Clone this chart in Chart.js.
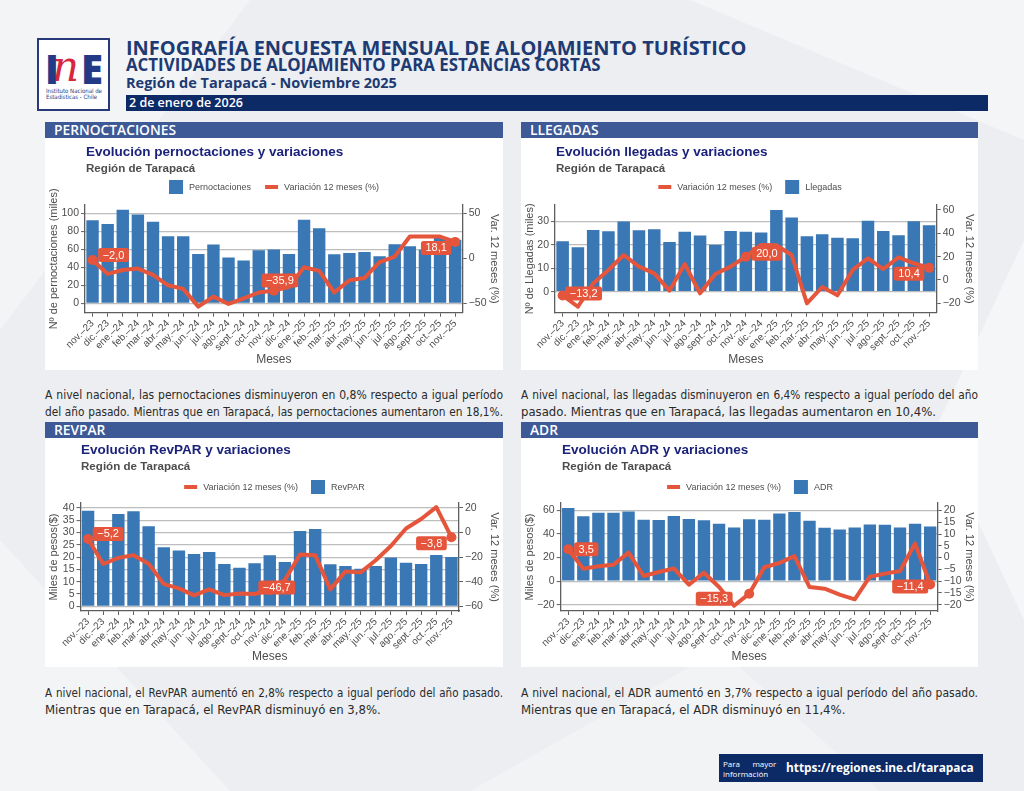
<!DOCTYPE html>
<html lang="es">
<head>
<meta charset="utf-8">
<title>Infografía Encuesta Mensual de Alojamiento Turístico - Tarapacá</title>
<script src="https://cdn.jsdelivr.net/npm/chart.js@4.4.1/dist/chart.umd.min.js"></script>
<style>
  html, body { margin: 0; padding: 0; }
  body { width: 1024px; height: 791px; position: relative; overflow: hidden; background: #eceef1; font-family: "Open Sans", "Noto Sans", sans-serif; }
  #fondo { position: absolute; left: 0; top: 0; }
  .abs { position: absolute; white-space: nowrap; line-height: 1; }
  .tit { color: #1d3a72; font-weight: 700; }
  #logo { position: absolute; left: 37px; top: 38px; width: 69px; height: 69px; background: #fff; border: 2px solid #27397a; }
  #logo .l { position: absolute; line-height: 1; font-weight: 800; color: #233b86; font-size: 40px; }
  #logo .n { position: absolute; line-height: 1; color: #d7263d; font-size: 42px; font-style: italic; font-family: "DejaVu Serif", serif; }
  #logo .inst { position: absolute; left: 7px; top: 48px; font-family: "Liberation Sans Narrow", "DejaVu Sans Condensed", sans-serif; font-size: 6px; line-height: 5.5px; color: #233b86; white-space: nowrap; }
  #fecha { position: absolute; left: 126px; top: 95px; width: 862px; height: 16px; background: #0c2a66; }
  #fecha span { position: absolute; left: 3px; color: #fff; font-weight: 600; white-space: nowrap; line-height: 1; }
  .seccion { position: absolute; height: 16px; background: #3d5a97; }
  .seccion span { position: absolute; left: 9px; top: 2px; color: #fff; font-weight: 600; white-space: nowrap; line-height: 1; font-size: 12.5px; }
  .panel { position: absolute; background: #fff; }
  .panel canvas { position: absolute; left: 0; top: 0; }
  .panel .t { position: absolute; font-family: "Liberation Sans", Arial, sans-serif; font-weight: 700; font-size: 13.5px; line-height: 16px; color: #1b227a; white-space: nowrap; }
  .panel .s { position: absolute; font-family: "Liberation Sans", Arial, sans-serif; font-weight: 700; font-size: 11.6px; line-height: 14px; color: #4d4d4d; white-space: nowrap; }
  .parrafo { position: absolute; width: 458px; font-family: "Liberation Sans Narrow", "DejaVu Sans Condensed", sans-serif; color: #2a2a2a; }
  .linea { height: 16.5px; line-height: 16.5px; white-space: nowrap; }
  #pie { position: absolute; left: 719px; top: 754px; width: 264px; height: 28px; background: #0c2a66; }
  #pie .mas { position: absolute; left: 4px; top: 5px; font-size: 8px; line-height: 9.5px; color: #fff; width: 53px; text-align: justify; }
  #pie .url { position: absolute; left: 67px; color: #fff; font-weight: 700; white-space: nowrap; line-height: 1; }
</style>
</head>
<body>
<svg id="fondo" width="1024" height="791">
  <polygon points="0,0 250,0 0,330" fill="#ffffff" opacity="0.35"/>
  <polygon points="690,0 1024,0 1024,140" fill="#ffffff" opacity="0.4"/>
  <polygon points="1024,240 1024,620 935,430" fill="#ffffff" opacity="0.45"/>
  <polygon points="0,540 0,791 230,791" fill="#ffffff" opacity="0.35"/>
  <polygon points="470,791 720,650 880,791" fill="#ffffff" opacity="0.3"/>
</svg>

<div id="logo">
  <span class="l" style="left:6px;top:9px">I</span>
  <span class="n" style="left:13px;top:6px">n</span>
  <span class="l" style="left:42px;top:9px">E</span>
  <div class="inst">Instituto Nacional de<br>Estadísticas - Chile</div>
</div>

<div id="t1" class="abs tit" style="left:126px">INFOGRAFÍA ENCUESTA MENSUAL DE ALOJAMIENTO TURÍSTICO</div>
<div id="t2" class="abs tit" style="left:126px">ACTIVIDADES DE ALOJAMIENTO PARA ESTANCIAS CORTAS</div>
<div id="t3" class="abs tit" style="left:126px">Región de Tarapacá - Noviembre 2025</div>
<div id="fecha"><span id="t4">2 de enero de 2026</span></div>

<div class="seccion" style="left:45px;top:122px;width:458px"><span id="s1">PERNOCTACIONES</span></div>
<div class="seccion" style="left:521px;top:122px;width:457px"><span>LLEGADAS</span></div>
<div class="seccion" style="left:45px;top:422px;width:458px"><span>REVPAR</span></div>
<div class="seccion" style="left:521px;top:422px;width:457px"><span>ADR</span></div>

<div class="panel" id="p1" style="left:45px;top:138px;width:458px;height:232px">
  <canvas id="g1" width="458" height="232"></canvas>
  <div class="t" style="left:41px;top:6px">Evolución pernoctaciones y variaciones</div>
  <div class="s" style="left:41px;top:23px">Región de Tarapacá</div>
</div>
<div class="panel" id="p2" style="left:521px;top:138px;width:457px;height:232px">
  <canvas id="g2" width="457" height="232"></canvas>
  <div class="t" style="left:35px;top:6px">Evolución llegadas y variaciones</div>
  <div class="s" style="left:35px;top:23px">Región de Tarapacá</div>
</div>
<div class="panel" id="p3" style="left:45px;top:438px;width:458px;height:229px">
  <canvas id="g3" width="458" height="229"></canvas>
  <div class="t" style="left:36px;top:4px">Evolución RevPAR y variaciones</div>
  <div class="s" style="left:36px;top:21px">Región de Tarapacá</div>
</div>
<div class="panel" id="p4" style="left:521px;top:438px;width:457px;height:229px">
  <canvas id="g4" width="457" height="229"></canvas>
  <div class="t" style="left:41px;top:4px">Evolución ADR y variaciones</div>
  <div class="s" style="left:41px;top:21px">Región de Tarapacá</div>
</div>

<div class="parrafo" style="left:45px;top:387px">
  <div class="linea j"><span>A nivel nacional, las pernoctaciones disminuyeron en 0,8% respecto a igual período</span></div>
  <div class="linea j"><span>del año pasado. Mientras que en Tarapacá, las pernoctaciones aumentaron en 18,1%.</span></div>
</div>
<div class="parrafo" style="left:521px;top:387px;width:457px">
  <div class="linea j"><span>A nivel nacional, las llegadas disminuyeron en 6,4% respecto a igual período del año</span></div>
  <div class="linea"><span>pasado. Mientras que en Tarapacá, las llegadas aumentaron en 10,4%.</span></div>
</div>
<div class="parrafo" style="left:45px;top:685px">
  <div class="linea j"><span>A nivel nacional, el RevPAR aumentó en 2,8% respecto a igual período del año pasado.</span></div>
  <div class="linea"><span>Mientras que en Tarapacá, el RevPAR disminuyó en 3,8%.</span></div>
</div>
<div class="parrafo" style="left:521px;top:685px;width:457px">
  <div class="linea j"><span>A nivel nacional, el ADR aumentó en 3,7% respecto a igual período del año pasado.</span></div>
  <div class="linea"><span>Mientras que en Tarapacá, el ADR disminuyó en 11,4%.</span></div>
</div>

<div id="pie">
  <div class="mas">Para&nbsp;&nbsp;&nbsp;&nbsp;&nbsp;&nbsp;mayor información</div>
  <span class="url" id="url">https://regiones.ine.cl/tarapaca</span>
</div>

<script>
const meses = ["nov.–23", "dic.–23", "ene.–24", "feb.–24", "mar.–24", "abr.–24", "may.–24", "jun.–24",
  "jul.–24", "ago.–24", "sept.–24", "oct.–24", "nov.–24", "dic.–24", "ene.–25", "feb.–25", "mar.–25",
  "abr.–25", "may.–25", "jun.–25", "jul.–25", "ago.–25", "sept.–25", "oct.–25", "nov.–25"];

// miles de pernoctaciones y variación 12 meses (%)
const pernoctaciones = [92.2, 87.8, 103.7, 98.5, 90.4, 74.4, 74.4, 54.8, 65.2, 50.7, 47.4, 58.9, 59.6,
  54.8, 92.6, 83.3, 54.4, 55.9, 57.0, 52.2, 65.6, 63.3, 59.3, 73.0, 70.4];
const varPernoctaciones = [-2.0, -17.4, -13.0, -11.5, -18.5, -30.0, -34.0, -53.7, -42.6, -50.7, -44.4,
  -38.0, -35.9, -32.0, -10.0, -14.0, -38.0, -24.4, -21.9, -4.4, 1.9, 24.0, 24.0, 24.0, 18.1];

// miles de llegadas
const llegadas = [21.6, 19.0, 26.4, 25.9, 30.0, 26.3, 26.7, 21.3, 25.7, 24.0, 20.1, 26.0, 25.7, 25.3,
  35.0, 31.7, 23.7, 24.6, 23.1, 22.9, 30.4, 26.0, 24.1, 30.1, 28.4];
const varLlegadas = [-13.2, -22.9, -2.9, 8.6, 21.4, 11.4, 5.7, -9.1, 13.7, -11.4, 5.1, 11.4, 20.0, 30.0,
  29.7, 21.4, -20.0, -6.0, -13.1, 8.6, 18.6, 9.4, 19.4, 14.3, 10.4];

// RevPAR en miles de pesos
const revpar = [38.9, 29.5, 37.5, 38.6, 32.5, 24.0, 22.7, 21.3, 22.1, 17.2, 15.7, 17.5, 20.8, 18.0,
  30.6, 31.4, 17.1, 16.4, 15.3, 16.4, 19.8, 17.7, 17.2, 20.9, 20.0];
const varRevpar = [-5.2, -25.6, -20.6, -18.4, -25.3, -42.0, -45.4, -51.1, -46.2, -50.9, -49.5, -50.0,
  -46.7, -38.5, -17.9, -18.4, -46.2, -31.6, -32.4, -22.5, -11.0, 3.3, 11.0, 20.6, -3.8];

// ADR en miles de pesos
const adr = [62.1, 55.0, 58.1, 58.1, 59.0, 52.1, 51.9, 55.3, 52.7, 51.6, 48.7, 45.6, 52.6, 52.1, 57.3,
  58.7, 51.3, 45.3, 43.9, 45.6, 48.1, 47.9, 45.6, 48.7, 46.4];
const varAdr = [3.5, -4.7, -3.7, -3.0, 2.1, -7.8, -6.1, -4.6, -11.5, -6.4, -12.5, -20.4, -15.3, -4.1,
  -2.3, 0.6, -12.5, -13.2, -15.7, -17.7, -8.1, -6.8, -5.7, 6.0, -11.4];

const ticksPernoctaciones = [0, 20, 40, 60, 80, 100];
const ticksVarPernoctaciones = [-50, 0, 50];
const ticksLlegadas = [0, 10, 20, 30];
const ticksVarLlegadas = [-20, 0, 20, 40, 60];
const ticksRevpar = [0, 5, 10, 15, 20, 25, 30, 35, 40];
const ticksVarRevpar = [-60, -40, -20, 0, 20];
const ticksAdr = [-20, 0, 20, 40, 60];
const ticksVarAdr = [-20, -15, -10, -5, 0, 5, 10, 15, 20];

// meses con etiqueta: nov.–23, nov.–24, nov.–25
const destacados = [0, 12, 24];

const AZUL = "#3a77b5";
const ROJO = "#e5553b";
const TEXTO = "#4d4d4d";
const EJE = "#5e5e5e";
const GRILLA = "#bdbdbd";
const FUENTE = '"Liberation Sans", Arial, sans-serif';

Chart.defaults.font.family = FUENTE;
Chart.defaults.color = TEXTO;

const conMenos = v => String(v).replace("-", "\u2212");
const decimal = v => conMenos(v.toFixed(1).replace(".", ","));

// leyenda dibujada a mano: cuadro para barras, trazo grueso para la línea
const leyendaPropia = {
  id: "leyendaPropia",
  afterDraw(chart, args, o) {
    const ctx = chart.ctx;
    const ds = chart.data.datasets;
    ctx.save();
    ctx.font = "9px " + FUENTE;
    const simb = 14, sep = 6, entre = 13;
    const anchos = o.orden.map(i => simb + sep + ctx.measureText(ds[i].label).width);
    const total = anchos.reduce((a, b) => a + b, 0) + entre * (anchos.length - 1);
    let x = chart.width / 2 - total / 2;
    const y = o.y;
    o.orden.forEach((i, k) => {
      const d = ds[i];
      if (d.type === "bar") {
        ctx.fillStyle = d.backgroundColor;
        ctx.fillRect(x, y - 7, 14, 14);
      } else {
        ctx.strokeStyle = d.borderColor;
        ctx.lineWidth = 4;
        ctx.beginPath();
        ctx.moveTo(x + 1, y);
        ctx.lineTo(x + 14, y);
        ctx.stroke();
      }
      ctx.fillStyle = TEXTO;
      ctx.textAlign = "left";
      ctx.textBaseline = "middle";
      ctx.fillText(d.label, x + simb + sep, y + 0.5);
      x += anchos[k] + entre;
    });
    ctx.restore();
  }
};

// cajas rojas con el valor de la variación en los meses destacados
const etiquetas = {
  id: "etiquetas",
  afterDatasetsDraw(chart, args, o) {
    const meta = chart.getDatasetMeta(1);
    const valores = chart.data.datasets[1].data;
    const ctx = chart.ctx;
    ctx.save();
    ctx.font = "11px " + FUENTE;
    destacados.forEach((idx, k) => {
      const pt = meta.data[idx];
      const [dx, dy] = o.desfases[k];
      const txt = decimal(valores[idx]);
      const w = ctx.measureText(txt).width + 9, h = 14;
      const cx = pt.x + dx, cy = pt.y + dy;
      ctx.fillStyle = ROJO;
      ctx.beginPath();
      ctx.roundRect(cx - w / 2, cy - h / 2, w, h, 2.5);
      ctx.fill();
      ctx.fillStyle = "#ffffff";
      ctx.textAlign = "center";
      ctx.textBaseline = "middle";
      ctx.fillText(txt, cx, cy + 0.5);
    });
    ctx.restore();
  }
};

const graficos = [
  { id: "g1", barra: "Pernoctaciones", barras: pernoctaciones, variacion: varPernoctaciones,
    tituloIzq: "Nº de pernoctaciones (miles)", tIzq: ticksPernoctaciones, tDer: ticksVarPernoctaciones,
    izq: [-10.4, 109], der: [-60.4, 59], orden: [0, 1],
    plot: { l: 40, t: 67, r: 417.7, b: 174.7 }, desfases: [[21, -5], [6, -10], [-19, 6]] },
  { id: "g2", barra: "Llegadas", barras: llegadas, variacion: varLlegadas,
    tituloIzq: "Nº de Llegadas (miles)", tIzq: ticksLlegadas, tDer: ticksVarLlegadas,
    izq: [-9, 37.1], der: [-28, 64.2], orden: [1, 0],
    plot: { l: 34, t: 67, r: 415.7, b: 174.7 }, desfases: [[21, -2], [21, -3], [-20, 6]] },
  { id: "g3", barra: "RevPAR", barras: revpar, variacion: varRevpar,
    tituloIzq: "Miles de pesos($)", tIzq: ticksRevpar, tDer: ticksVarRevpar,
    izq: [-1.9, 42], der: [-63.8, 24], orden: [1, 0],
    plot: { l: 35.5, t: 65, r: 414, b: 173 }, desfases: [[20, -5], [7, -2.5], [-20, 6]] },
  { id: "g4", barra: "ADR", barras: adr, variacion: varAdr,
    tituloIzq: "Miles de pesos($)", tIzq: ticksAdr, tDer: ticksVarAdr,
    izq: [-25.3, 66.3], der: [-22.65, 23.15], orden: [1, 0],
    plot: { l: 39.7, t: 65, r: 416.7, b: 173 }, desfases: [[18, 0], [-35, 5], [-20, 2]] }
];

function crearGrafico(g) {
  const canvas = document.getElementById(g.id);
  const ancho = canvas.width, alto = canvas.height;
  const tituloEje = texto => ({ display: true, text: texto, color: TEXTO, font: { size: 11 }, padding: { top: 2.5, bottom: 0 } });
  const ticksEje = { color: TEXTO, font: { size: 10.5 }, padding: 2, autoSkip: false, callback: v => conMenos(v) };
  new Chart(canvas, {
    data: {
      labels: meses,
      datasets: [
        { type: "bar", label: g.barra, data: g.barras, yAxisID: "y", backgroundColor: AZUL,
          barPercentage: 0.82, categoryPercentage: 1, order: 2 },
        { type: "line", label: "Variación 12 meses (%)", data: g.variacion, yAxisID: "y1",
          borderColor: ROJO, borderWidth: 4, tension: 0, borderJoinStyle: "round", borderCapStyle: "round",
          pointRadius: c => destacados.includes(c.dataIndex) ? 5 : 0,
          pointBackgroundColor: ROJO, pointBorderWidth: 0, order: 1 }
      ]
    },
    options: {
      responsive: false,
      animation: false,
      layout: { padding: { top: g.plot.t, left: 0, right: 0, bottom: 0 } },
      plugins: {
        legend: { display: false },
        tooltip: { enabled: false },
        leyendaPropia: { orden: g.orden, y: 49 },
        etiquetas: { desfases: g.desfases }
      },
      scales: {
        x: {
          offset: true,
          grid: { display: true, drawOnChartArea: false, offset: false, tickLength: 4, tickColor: EJE, tickWidth: 1 },
          border: { display: true, color: EJE, width: 1.3 },
          ticks: { autoSkip: false, maxRotation: 45, minRotation: 45, padding: 1, color: TEXTO, font: { size: 10 } },
          title: { display: true, text: "Meses", color: TEXTO, font: { size: 12 }, padding: { top: 0, bottom: 3.5 } },
          afterFit: s => { s.height = alto - g.plot.b; }
        },
        y: {
          position: "left", min: g.izq[0], max: g.izq[1],
          afterBuildTicks: s => { s.ticks = g.tIzq.map(v => ({ value: v })); },
          grid: { color: GRILLA, lineWidth: 1.2, tickLength: 4, tickColor: EJE, tickWidth: 1 },
          border: { display: true, color: EJE, width: 1.3 },
          ticks: ticksEje,
          title: tituloEje(g.tituloIzq),
          afterFit: s => { s.width = g.plot.l; }
        },
        y1: {
          position: "right", min: g.der[0], max: g.der[1],
          afterBuildTicks: s => { s.ticks = g.tDer.map(v => ({ value: v })); },
          grid: { drawOnChartArea: false, tickLength: 4, tickColor: EJE, tickWidth: 1 },
          border: { display: true, color: EJE, width: 1.3 },
          ticks: ticksEje,
          title: tituloEje("Var. 12 meses (%)"),
          afterFit: s => { s.width = ancho - g.plot.r; }
        }
      }
    },
    plugins: [leyendaPropia, etiquetas]
  });
}

// ajusta el tamaño de letra para que el texto ocupe el ancho del original
function ajustar(el, ancho, base) {
  el.style.fontSize = "20px";
  const w = el.getBoundingClientRect().width;
  const fs = 20 * ancho / w;
  el.style.fontSize = fs + "px";
  if (base !== undefined) el.style.top = (base - 0.888 * fs) + "px";
  return fs;
}

function justificar() {
  document.querySelectorAll(".linea").forEach(linea => {
    const span = linea.firstElementChild;
    span.style.wordSpacing = "0px";
    let fs = 13;
    linea.style.fontSize = fs + "px";
    const total = linea.clientWidth;
    while (span.getBoundingClientRect().width > total && fs > 9) {
      fs -= 0.25;
      linea.style.fontSize = fs + "px";
    }
    if (linea.classList.contains("j")) {
      const libre = total - span.getBoundingClientRect().width;
      const espacios = (span.textContent.match(/ /g) || []).length;
      if (espacios) span.style.wordSpacing = (libre / espacios) + "px";
    }
  });
}

function maquetar() {
  ajustar(document.getElementById("t1"), 621, 56);
  ajustar(document.getElementById("t2"), 475, 72);
  ajustar(document.getElementById("t3"), 271, 89);
  const f = ajustar(document.getElementById("t4"), 114);
  document.getElementById("t4").style.top = (13 - 0.888 * f) + "px";
  const s = ajustar(document.getElementById("s1"), 122);
  document.querySelectorAll(".seccion span").forEach(el => {
    el.style.fontSize = s + "px";
    el.style.top = (13 - 0.888 * s) + "px";
  });
  const u = ajustar(document.getElementById("url"), 188);
  document.getElementById("url").style.top = (19 - 0.888 * u) + "px";
  justificar();
}

graficos.forEach(crearGrafico);
maquetar();
if (document.fonts && document.fonts.ready) document.fonts.ready.then(maquetar);
</script>
</body>
</html>
